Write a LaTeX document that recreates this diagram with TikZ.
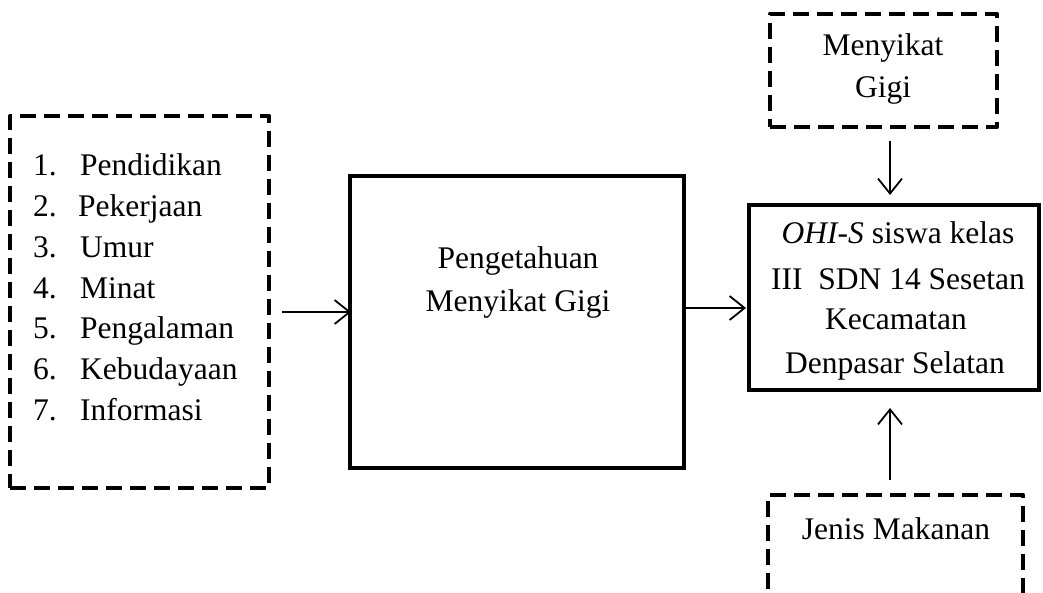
\documentclass[tikz,border=0pt]{standalone}
\usepackage{fontspec}
\setmainfont{Liberation Serif}
\usetikzlibrary{arrows.meta}
\begin{document}
\begin{tikzpicture}[x=1pt,y=-1pt,
  dbox/.style={draw, line width=4.5pt, dash pattern=on 16pt off 8pt, line join=round},
  sbox/.style={draw, line width=4.5pt, line join=miter},
  txt/.style={inner sep=0pt, anchor=base, font=\fontsize{31.5}{42}\selectfont},
  ltxt/.style={txt, anchor=base west},
  conn/.style={line width=1.8pt, -{Straight Barb[length=15pt,width=24pt,line width=1.8pt]}}
]
\useasboundingbox (0,0) rectangle (1043,592);
% boxes
\node[dbox, minimum width=259pt, minimum height=372pt, inner sep=0pt] (left) at (139.5,302) {};
\node[sbox, minimum width=334pt, minimum height=292pt, inner sep=0pt] (mid) at (517,322) {};
\node[sbox, minimum width=290pt, minimum height=185pt, inner sep=0pt] (res) at (894,297.5) {};
\node[dbox, minimum width=227pt, minimum height=113pt, inner sep=0pt] (top) at (883.5,70.5) {};
\node[dbox, minimum width=255pt, minimum height=180pt, inner sep=0pt] (bot) at (895.5,585) {};
% left list
\foreach \n/\w/\y/\dx in {1/Pendidikan/175/47, 2/Pekerjaan/216/45, 3/Umur/257/47, 4/Minat/298/47, 5/Pengalaman/338/47, 6/Kebudayaan/379/47, 7/Informasi/420/47}
  \node[ltxt] (l\n) at (33,\y) {\makebox[\dx pt][l]{\n.}\w};
% middle text
\node[txt] (m1) at (518,268) {Pengetahuan};
\node[txt] (m2) at (518,311) {Menyikat Gigi};
% result text
\node[txt] (r1) at (898,243) {\textit{OHI-S} siswa kelas};
\node[txt] (r2) at (898,289) {III\ \ SDN 14 Sesetan};
\node[txt] (r3) at (896,329) {Kecamatan};
\node[txt] (r4) at (895,373) {Denpasar Selatan};
% top text
\node[txt] (t1) at (883,55) {Menyikat};
\node[txt] (t2) at (883,97) {Gigi};
% bottom text
\node[txt] (b1) at (896,539) {Jenis Makanan};
% connectors
\coordinate (a1s) at (282,312);
\coordinate (a1e) at (351,312);
\draw[conn] (a1s) -- (a1e);
\coordinate (a2s) at (686,308);
\coordinate (a2e) at (746,308);
\draw[conn] (a2s) -- (a2e);
\coordinate (a3s) at (890,141);
\coordinate (a3e) at (890,195);
\draw[conn] (a3s) -- (a3e);
\coordinate (a4s) at (890,480);
\coordinate (a4e) at (890,408);
\draw[conn] (a4s) -- (a4e);
\end{tikzpicture}
\end{document}
